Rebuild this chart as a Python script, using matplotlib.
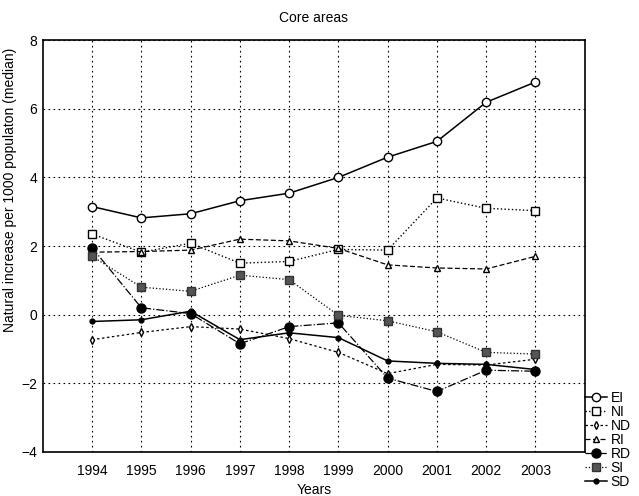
import matplotlib.pyplot as plt
import numpy as np

plt.rcParams["font.family"] = ["Liberation Sans", "DejaVu Sans"]

years = [1994, 1995, 1996, 1997, 1998, 1999, 2000, 2001, 2002, 2003]
ei = [3.15, 2.82, 2.94, 3.32, 3.54, 4.0, 4.59, 5.05, 6.19, 6.78]
ni = [2.35, 1.82, 2.08, 1.5, 1.55, 1.9, 1.88, 3.4, 3.1, 3.03]
nd = [-0.73, -0.52, -0.35, -0.42, -0.7, -1.1, -1.72, -1.45, -1.47, -1.3]
ri = [1.82, 1.84, 1.88, 2.2, 2.15, 1.93, 1.45, 1.36, 1.33, 1.7]
rd = [1.95, 0.2, 0.03, -0.85, -0.35, -0.24, -1.85, -2.24, -1.62, -1.65]
si = [1.7, 0.8, 0.68, 1.15, 1.02, -0.02, -0.18, -0.5, -1.1, -1.15]
sd = [-0.2, -0.15, 0.1, -0.73, -0.53, -0.67, -1.35, -1.42, -1.45, -1.6]

fig = plt.figure(figsize=(6.39, 4.96), dpi=100)
ax = fig.add_axes([0.067, 0.089, 0.848, 0.83])

ax.plot(years, ei, "-", color="black", lw=1.1, marker="o", ms=6,
        mfc="white", mec="black", label="EI")
ax.plot(years, ni, ":", color="black", lw=1.0, marker="s", ms=6,
        mfc="white", mec="black", label="NI")
ax.plot(years, nd, "--", color="black", lw=0.9, dashes=(2, 2), marker="d", ms=4,
        mfc="white", mec="black", label="ND")
ax.plot(years, ri, "--", color="black", lw=0.9, dashes=(4, 2), marker="^", ms=4.5,
        mfc="white", mec="black", label="RI")
ax.plot(years, rd, "-.", color="black", lw=0.9, marker="o", ms=6.5,
        mfc="black", mec="black", label="RD")
ax.plot(years, si, ":", color="black", lw=0.9, marker="s", ms=6,
        mfc="#555555", mec="#333333", label="SI")
ax.plot(years, sd, "-", color="black", lw=1.1, marker="o", ms=3.5,
        mfc="black", mec="black", label="SD")

ax.set_xlim(1993, 2004)
ax.set_ylim(-4, 8)
ax.set_xticks(years)
ax.set_yticks(np.arange(-4, 9, 2))
ax.tick_params(length=0, labelsize=10)
ax.tick_params(axis="x", pad=9)
ax.tick_params(axis="y", pad=4)
ax.grid(True, linestyle=(0, (1.5, 3)), color="black", lw=0.8)
for s in ax.spines.values():
    s.set_linewidth(1.2)

ax.set_title("Core areas", fontsize=10, pad=13)
ax.set_xlabel("Years", fontsize=10, labelpad=3)
ax.set_ylabel("Natural increase per 1000 populaton (median)", fontsize=10)
ax.yaxis.set_label_coords(-0.048, 0.636)

ax.legend(loc="lower left", bbox_to_anchor=(0.985, -0.11), frameon=False,
          fontsize=10, handlelength=1.6, handletextpad=0.25, labelspacing=0.0,
          borderaxespad=0.2)

fig.savefig("out.png", dpi=100)
